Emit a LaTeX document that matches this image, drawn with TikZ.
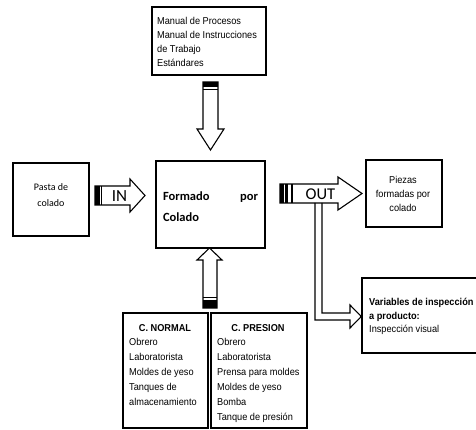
\documentclass[tikz,border=0pt]{standalone}
\usepackage{fontspec}
\setmainfont{Liberation Sans}[FakeStretch=0.92]
\newfontfamily\calfont{Carlito}
\tikzset{
  box/.style={draw, line width=1.5pt, inner sep=0pt},
  blk/.style={draw, line width=1.1pt, fill=white, line join=miter},
  lst/.style={align=left, inner sep=0pt, font=\fontsize{10}{14}\selectfont},
  ctr/.style={align=center, inner sep=0pt, font=\fontsize{10}{14}\selectfont},
}

\begin{document}
\begin{tikzpicture}[x=1pt,y=-1pt]
\useasboundingbox (0,0) rectangle (476,430);
% cajas
\node[box, minimum width=114, minimum height=68] (manual) at (209,41) {};
\node[box, minimum width=109, minimum height=87] (formado) at (210.5,204.5) {};
\node[box, minimum width=76, minimum height=73] (pasta) at (51,199.5) {};
\node[box, minimum width=76, minimum height=67] (piezas) at (404,193.5) {};
\node[box, minimum width=118, minimum height=75] (variables) at (421,315.5) {};
\node[box, minimum width=85, minimum height=115] (normal) at (165.5,370.5) {};
\node[box, minimum width=96, minimum height=115] (presion) at (259,370.5) {};
% textos
\node[lst, anchor=west] (manualtxt) at (157,42) {Manual de Procesos\\Manual de Instrucciones\\de Trabajo\\Estándares};
\node[lst, text width=95pt, font=\calfont\bfseries\fontsize{12.5}{21}\selectfont] (formadotxt) at (210.5,206.5) {Formado\hfill por\\Colado};
\node[ctr, font=\calfont\fontsize{10}{16}\selectfont] (pastatxt) at (51,195) {Pasta de\\colado};
\node[ctr] (piezastxt) at (403,194) {Piezas\\formadas por\\colado};
\node[lst, anchor=west, font=\fontsize{10}{13.5}\selectfont] (variablestxt) at (369,316.5) {\textbf{Variables de inspección}\\\textbf{a producto:}\\Inspección visual};
\node[ctr, font=\bfseries\fontsize{10}{14}\selectfont] (normaltit) at (165,328) {C. NORMAL};
\node[ctr, font=\bfseries\fontsize{10}{14}\selectfont] (presiontit) at (258,328) {C. PRESION};
\node[lst, anchor=north west, font=\fontsize{10}{15}\selectfont] (normaltxt) at (129,338) {Obrero\\Laboratorista\\Moldes de yeso\\Tanques de\\almacenamiento};
\node[lst, anchor=north west, font=\fontsize{10}{15}\selectfont] (presiontxt) at (217,338) {Obrero\\Laboratorista\\Prensa para moldes\\Moldes de yeso\\Bomba\\Tanque de presión};
% flecha de arriba
\draw[blk] (203,82) -- (203,129) -- (197,129) -- (210.5,150) -- (224,129) -- (218,129) -- (218,82) -- cycle;
\fill (203,82) rectangle (218,87.5);
\draw[line width=1.2pt] (203,89.8) -- (218,89.8);
% flecha de abajo
\draw[blk] (203,308) -- (203,260) -- (197,260) -- (209.5,248) -- (222,260) -- (217,260) -- (217,308) -- cycle;
\fill (203,300) rectangle (217,308);
\draw[line width=1.2pt] (203,297.3) -- (217,297.3);
% IN
\draw[blk] (95,186) -- (130,186) -- (130,179) -- (145,195.5) -- (130,212) -- (130,205) -- (95,205) -- cycle;
\fill (95,186) rectangle (100,205);
\draw[line width=1.2pt] (101.6,186) -- (101.6,205);
\node[font=\calfont\fontsize{17}{17}\selectfont, inner sep=0pt] (in) at (119.5,196) {IN};
% OUT
\draw[blk] (280,184) -- (338,184) -- (338,177) -- (362,193.5) -- (338,210) -- (338,203) -- (280,203) -- cycle;
\fill (280,184) rectangle (283.5,203);
\fill (285,184) rectangle (287.5,203);
\draw[line width=1.1pt] (292,184) -- (292,203);
\node[font=\calfont\fontsize{16.5}{16.5}\selectfont, inner sep=0pt] (out) at (320.5,194) {OUT};
% salida a variables
\draw[line width=1.1pt, line join=miter] (322,203) |- (350,313) -- (350,305) -- (variables.west |- 0,316.5) -- (350,328) -- (350,320) -| (315,203);
\end{tikzpicture}
\end{document}
